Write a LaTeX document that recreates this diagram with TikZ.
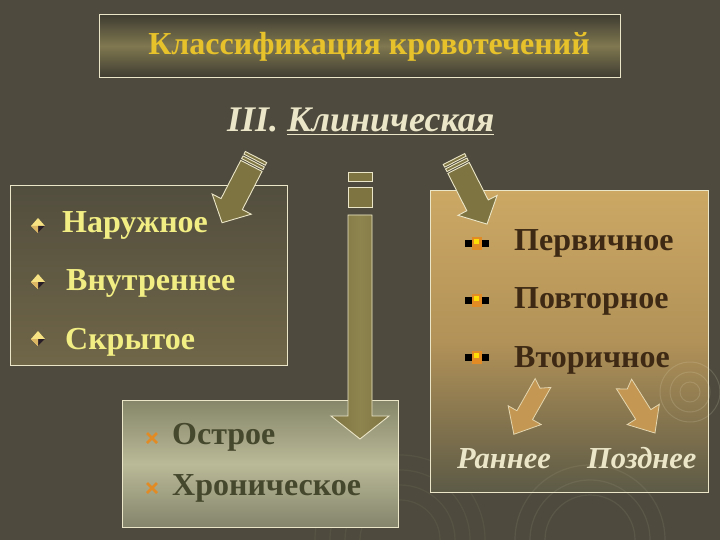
\documentclass[tikz,border=0pt]{standalone}
\usepackage{fontspec}
\setmainfont{Liberation Serif}
\definecolor{bg}{RGB}{78,75,62}
\definecolor{cream}{RGB}{236,230,200}
\definecolor{titletext}{RGB}{232,194,42}
\definecolor{lefttext}{RGB}{242,238,132}
\definecolor{righttext}{RGB}{62,42,20}
\definecolor{bottext}{RGB}{70,72,45}
\definecolor{arrowfill}{RGB}{125,116,66}
\definecolor{arrowmid}{RGB}{142,132,78}
\definecolor{goldarrow}{RGB}{196,152,82}
\definecolor{goldbul}{RGB}{246,226,130}
\definecolor{darkbul}{RGB}{40,30,40}
\definecolor{orangebul}{RGB}{226,138,36}
\definecolor{swirl}{RGB}{150,145,120}
\tikzset{
  box/.style={draw=cream, line width=0.9pt, inner sep=0pt, anchor=north west},
  titlefont/.style={font=\fontsize{32}{38}\selectfont\bfseries, text=titletext, inner sep=0pt},
  leftitem/.style={font=\fontsize{32}{38}\selectfont\bfseries, text=lefttext, anchor=base west, inner sep=0pt},
  rightitem/.style={font=\fontsize{32}{38}\selectfont\bfseries, text=righttext, anchor=base west, inner sep=0pt},
  botitem/.style={font=\fontsize{32}{38}\selectfont\bfseries, text=bottext, anchor=base west, inner sep=0pt},
  subitem/.style={font=\fontsize{30.5}{36}\selectfont\bfseries\itshape, text=cream, anchor=base west, inner sep=0pt},
  headitem/.style={font=\fontsize{36}{42}\selectfont\bfseries\itshape, text=cream, anchor=base west, inner sep=0pt},
  bigarrow/.style={draw=cream, line width=0.9pt, fill=arrowfill, line join=miter},
  smallarrow/.style={draw=cream!80!goldarrow, line width=0.8pt, fill=goldarrow},
}
\begin{document}
\begin{tikzpicture}[x=1pt,y=-1pt]
\useasboundingbox (0,0) rectangle (720,540);
\fill[bg] (0,0) rectangle (720,540);
% faint background swirls
\foreach \r in {40,55,70,85}{\draw[swirl, opacity=0.12, line width=1.2pt] (400,540) circle[radius=\r];}

% boxes
\node[box, minimum width=521pt, minimum height=63pt, top color=bg!80!black, bottom color=bg!80!black, middle color={rgb,255:red,128;green,120;blue,80}] (titlebox) at (99,14) {};
\node[box, minimum width=277pt, minimum height=180pt, top color={rgb,255:red,82;green,78;blue,62}, bottom color={rgb,255:red,112;green,102;blue,72}] (leftbox) at (10,185) {};
\node[box, minimum width=278pt, minimum height=302pt, top color={rgb,255:red,204;green,168;blue,100}, bottom color={rgb,255:red,92;green,90;blue,70}, middle color={rgb,255:red,178;green,146;blue,88}] (rightbox) at (430,190) {};
\node[box, minimum width=276pt, minimum height=127pt, top color={rgb,255:red,134;green,134;blue,106}, bottom color={rgb,255:red,132;green,132;blue,108}, middle color={rgb,255:red,186;green,186;blue,152}] (botbox) at (122,400) {};
\foreach \r in {10,20,30}{\draw[cream, opacity=0.16, line width=1pt] (690,392) circle[radius=\r];}
\foreach \r in {45,60,75}{\draw[cream, opacity=0.08, line width=1.2pt] (590,540) circle[radius=\r];}

% title texts
\node[titlefont, anchor=base] (title) at (369,55) {Классификация кровотечений};
\node[headitem] (sub) at (227,132) {III. \underline{Клиническая}};

% left items
\node[leftitem] (l1) at (62,233) {Наружное};
\node[leftitem] (l2) at (66,290) {Внутреннее};
\node[leftitem] (l3) at (65,349) {Скрытое};
% right items
\node[rightitem] (r1) at (514,250) {Первичное};
\node[rightitem] (r2) at (514,308) {Повторное};
\node[rightitem] (r3) at (514,367) {Вторичное};
% bottom items
\node[botitem] (b1) at (172,444) {Острое};
\node[botitem] (b2) at (172,495) {Хроническое};
% sub labels
\node[subitem] (early) at (457,468) {Раннее};
\node[subitem] (late) at (587,468) {Позднее};

% left bullets
\foreach \y in {226,282,339}{
  \fill[goldbul] (31,\y) -- (38,\y-8) -- (45,\y) -- (38,\y+7) -- cycle;
  \fill[darkbul] (38,\y) -- (45,\y) -- (38,\y+7) -- cycle;
  \fill[goldbul!55!brown] (31,\y) -- (38,\y) -- (38,\y+7) -- cycle;
}
% right bullets
\foreach \y in {243,300,357}{
  \fill[black] (465,\y-3.5) rectangle (472,\y+3.5);
  \fill[black] (482,\y-3.5) rectangle (489,\y+3.5);
  \fill[orangebul] (472,\y-6.5) rectangle (482,\y+6.5);
  \fill[yellow!80!orange] (474,\y-4) rectangle (479,\y+1);
}
% bottom bullets
\foreach \y in {438,488}{
  \draw[orangebul, line width=2.6pt] (147,\y-5) -- (157,\y+5);
  \draw[orangebul, line width=2.6pt] (157,\y-5) -- (147,\y+5);
}

% vertical big arrow
\draw[bigarrow] (348,172) rectangle (372,181);
\draw[bigarrow] (348,187) rectangle (372,207);
\draw[bigarrow, left color=arrowfill, right color=arrowfill, middle color=arrowmid] (348,215) -- (372,215) -- (372,416) -- (389,416) -- (360,439) -- (331,416) -- (348,416) -- cycle;

% left diagonal arrow
\begin{scope}[shift={(256,157)}, rotate=-117.3]
  \draw[bigarrow] (0,-12) rectangle (3,12);
  \draw[bigarrow] (5,-12) rectangle (8,12);
  \draw[bigarrow] (10,-12) -- (53,-12) -- (53,-22) -- (74,0) -- (53,22) -- (53,12) -- (10,12) -- cycle;
\end{scope}
% right diagonal arrow
\begin{scope}[shift={(454,159)}, rotate=-63.1]
  \draw[bigarrow] (0,-12) rectangle (3,12);
  \draw[bigarrow] (5,-12) rectangle (8,12);
  \draw[bigarrow] (10,-12) -- (52,-12) -- (52,-22) -- (73,0) -- (52,22) -- (52,12) -- (10,12) -- cycle;
\end{scope}
% small arrows
\begin{scope}[shift={(543,383)}, rotate=-119.6]
  \draw[smallarrow] (0,-9) -- (37,-9) -- (37,-19) -- (59,0) -- (37,19) -- (37,9) -- (0,9) -- (6,0) -- cycle;
\end{scope}
\begin{scope}[shift={(624,384)}, rotate=-57.7]
  \draw[smallarrow] (0,-9) -- (36,-9) -- (36,-19) -- (58,0) -- (36,19) -- (36,9) -- (0,9) -- (6,0) -- cycle;
\end{scope}
\end{tikzpicture}
\end{document}
